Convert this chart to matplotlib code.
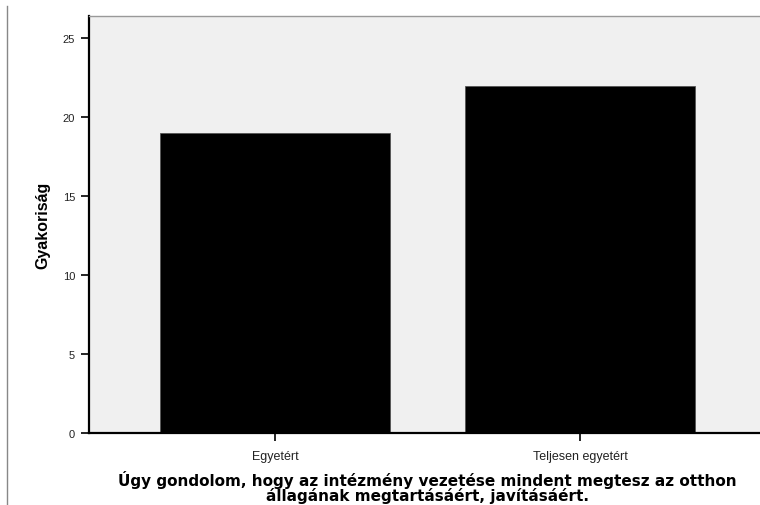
import matplotlib
matplotlib.use("Agg")
import matplotlib.pyplot as plt
from matplotlib.lines import Line2D

categories = ["Egyetért", "Teljesen egyetért"]
values = [19, 22]
yticks = [0, 5, 10, 15, 20, 25]
xlabel = ("Úgy gondolom, hogy az intézmény vezetése mindent megtesz az otthon\n"
          "állagának megtartásáért, javításáért.")
ylabel = "Gyakoriság"

W, H = 760, 506
fig = plt.figure(figsize=(W/100, H/100), dpi=100)
fig.patch.set_facecolor("white")
ax = fig.add_axes([89/W, 1-434/H, (760-89)/W, (434-17)/H])
ax.set_facecolor("#F0F0F0")
x = list(range(len(categories)))
ax.bar(x, values, width=0.754, color="black", edgecolor="#555555", linewidth=0.6, zorder=2)
ax.set_xlim(-0.61, 1.59)
ax.set_ylim(0, 26.4)
ax.set_yticks(yticks)
ax.set_yticklabels([str(v) for v in yticks], fontsize=8, family="Liberation Sans", color="#222222")
ax.set_xticks(x)
ax.set_xticklabels(categories, fontsize=9, family="Liberation Sans", color="#222222")
ax.tick_params(axis="both", length=6, width=1.2, color="black", direction="out")
ax.tick_params(axis="y", pad=4)
ax.tick_params(axis="x", pad=6)
for s in ["left", "bottom"]:
    ax.spines[s].set_color("black")
    ax.spines[s].set_linewidth(1.6)
ax.spines["top"].set_color("#999999")
ax.spines["top"].set_linewidth(1.0)
ax.spines["right"].set_visible(False)
ax.set_ylabel(ylabel, fontsize=11.5, fontweight="bold", family="Liberation Sans", labelpad=9)

fig.text(427/W, 1-487.5/H, xlabel, ha="center", va="center", multialignment="center",
         fontsize=11, fontweight="bold", family="DejaVu Sans", linespacing=0.95)

fig.add_artist(Line2D([7/W, 7/W], [0, 1-7/H], transform=fig.transFigure, color="#888888", linewidth=1))

fig.savefig("out.png", dpi=100)
